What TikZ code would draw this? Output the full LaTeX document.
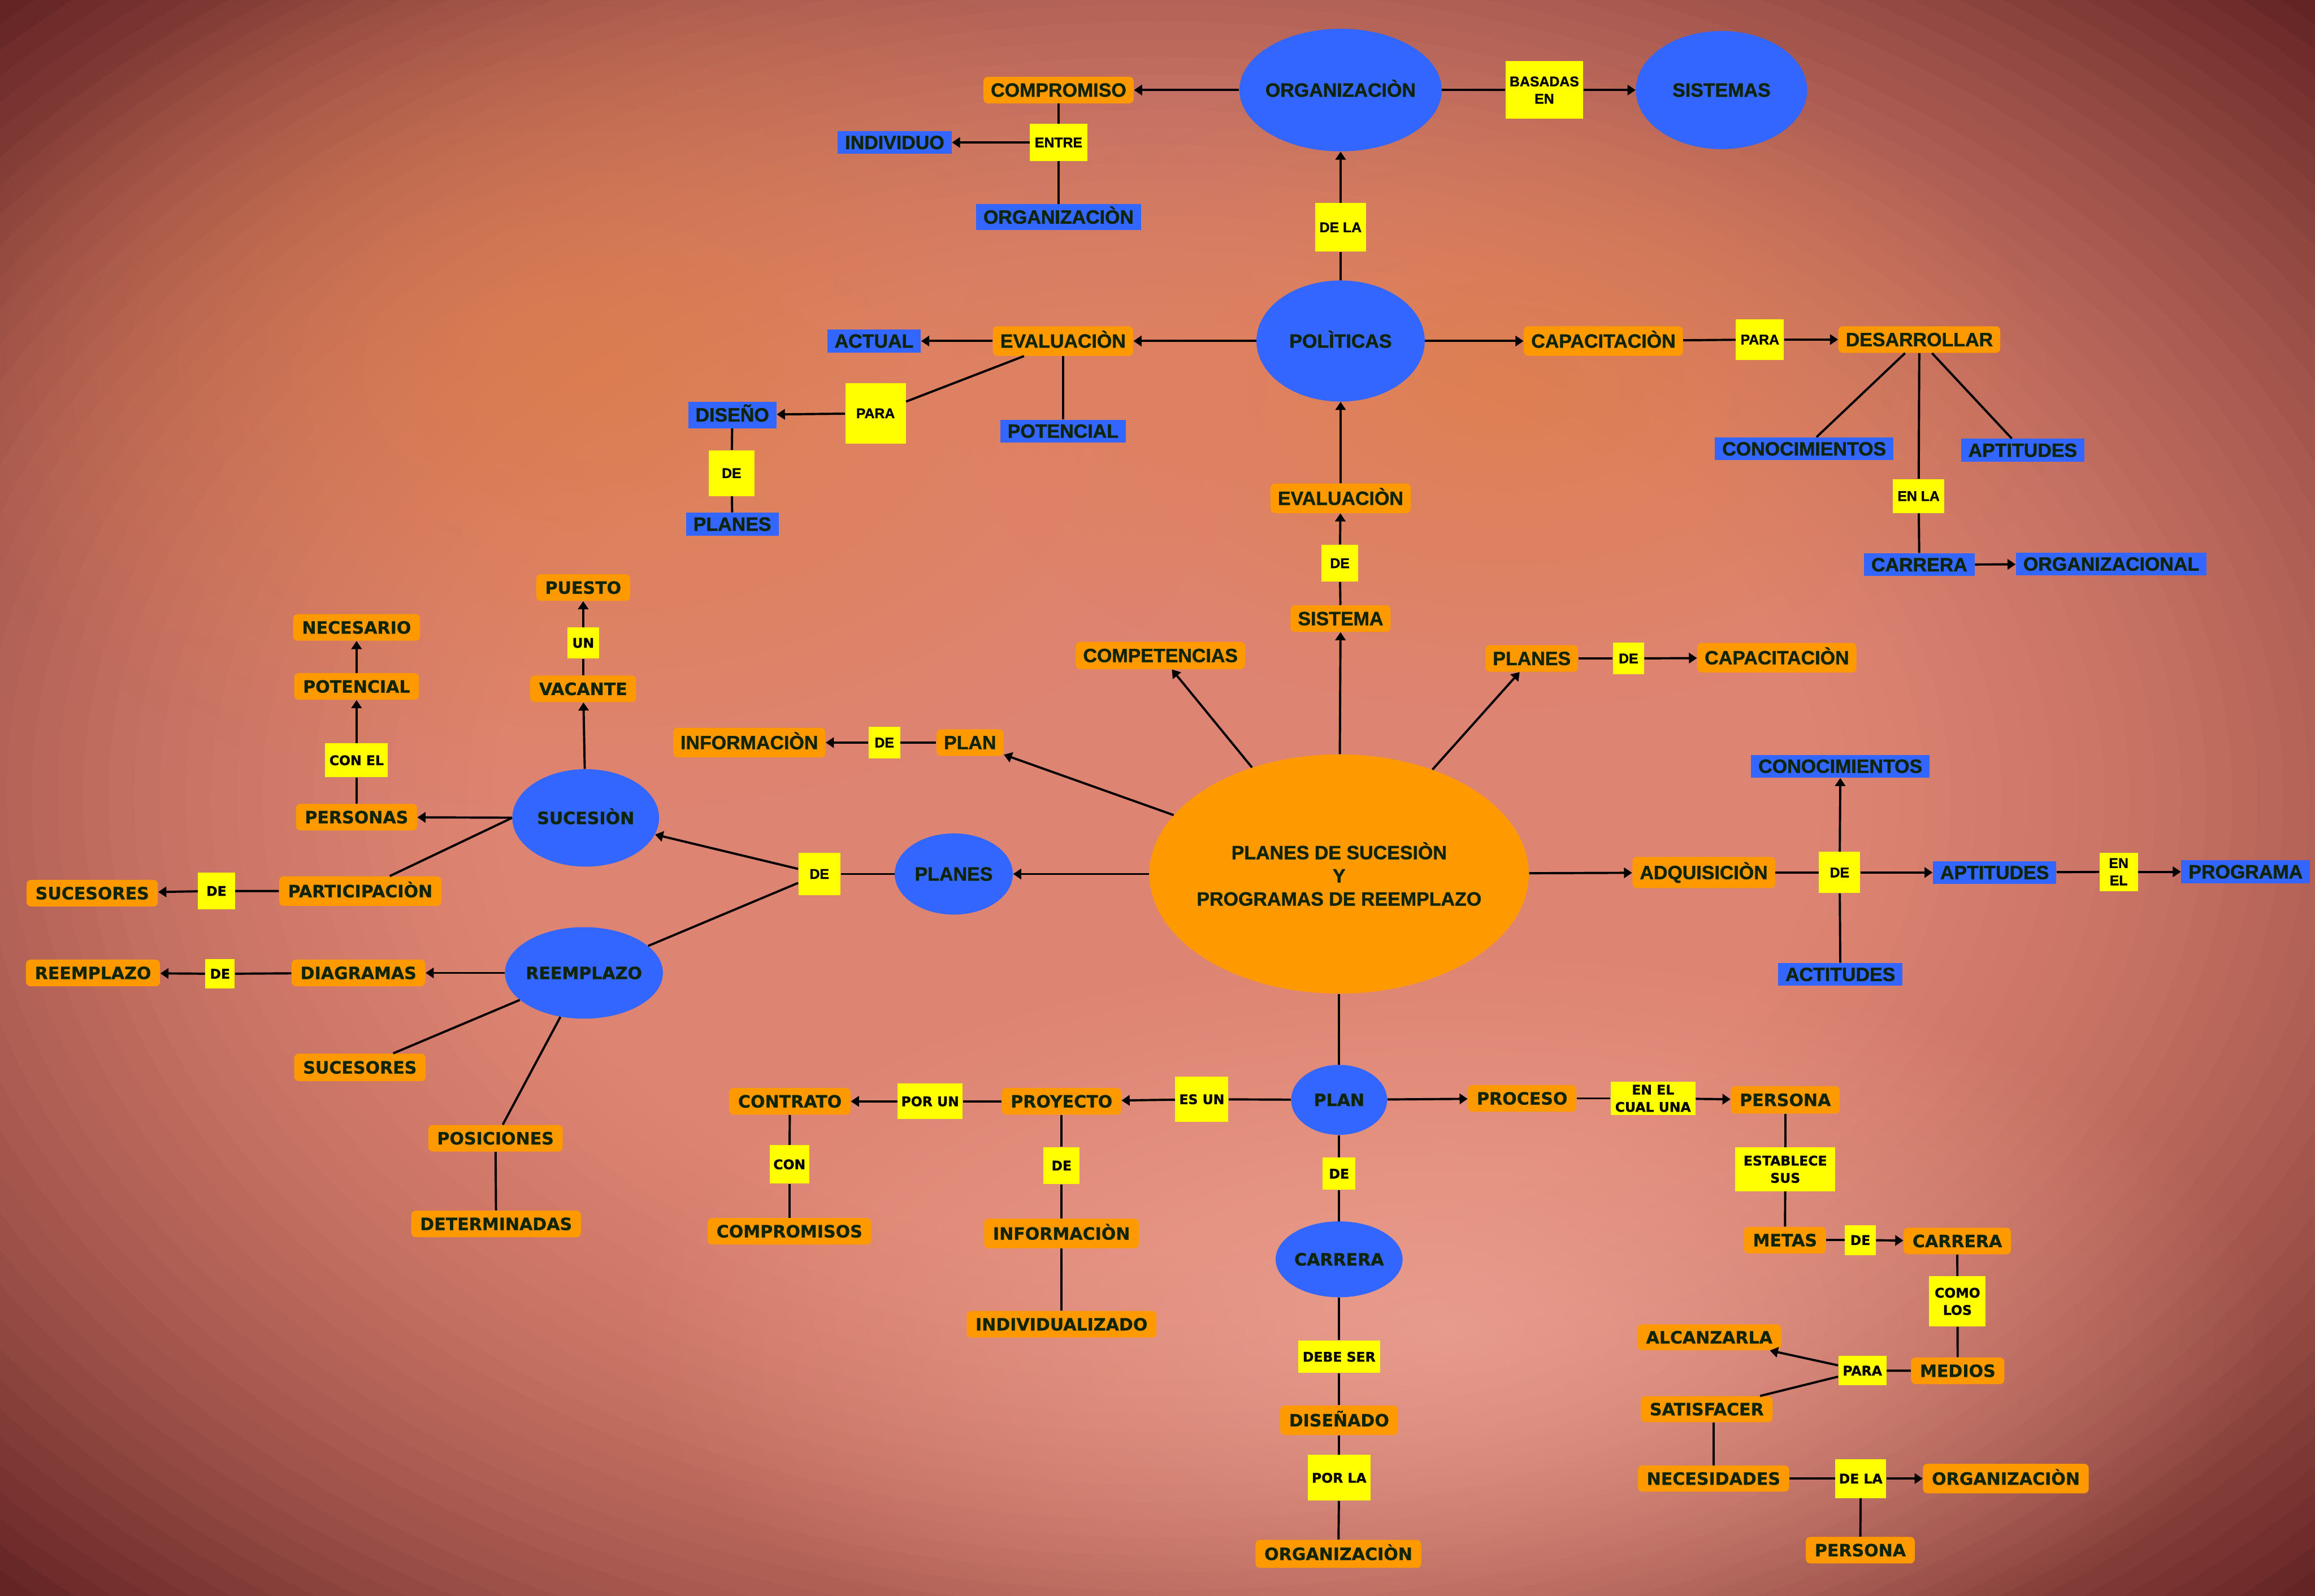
\documentclass[tikz,border=0pt]{standalone}
\usepackage{fontspec}
\newfontfamily\fimp{Liberation Sans}[BoldFeatures={FakeBold=1.2}]
\newfontfamily\fblk{DejaVu Sans}[BoldFeatures={FakeBold=0.8}]
\usetikzlibrary{shapes.geometric,arrows.meta,fadings}

\definecolor{naranja}{RGB}{255,153,0}
\definecolor{azul}{RGB}{51,102,255}
\definecolor{amarillo}{RGB}{255,255,0}
\definecolor{tinta}{RGB}{16,36,8}
\definecolor{fondoc}{RGB}{222,132,114}
\definecolor{fondod}{RGB}{100,36,36}
\definecolor{fondoo}{RGB}{222,126,72}
\definecolor{fondol}{RGB}{238,166,152}

\newcommand\fntI{\fimp\bfseries\fontsize{13}{15.7}\selectfont}
\newcommand\fntA{\fblk\bfseries\fontsize{11.5}{13.5}\selectfont}
\newcommand\fntIs{\fimp\bfseries\fontsize{9.5}{11.7}\selectfont}
\newcommand\fntAs{\fblk\bfseries\fontsize{9}{11.7}\selectfont}

\tikzfading[name=brillo, inner color=transparent!25, outer color=transparent!100]

\tikzset{
  ora/.style={fill=naranja, rounded corners=3pt, text=tinta, font=\fntI, inner xsep=5pt, inner ysep=0pt,
    minimum height=18pt, text height=9pt, text depth=0pt},
  oraw/.style={ora, font=\fntA, inner xsep=6pt, text height=8.4pt},
  blu/.style={fill=azul, text=tinta, font=\fntI, inner xsep=5pt, inner ysep=0pt,
    minimum height=15.5pt, text height=9pt, text depth=0pt},
  yel/.style={fill=amarillo, text=black, font=\fntIs, inner sep=1pt, align=center},
  yelw/.style={yel, font=\fntAs},
  nube/.style={ellipse, fill=azul, text=tinta, font=\fntI, inner sep=-8pt, text height=9pt, text depth=0pt},
  nubew/.style={nube, font=\fntA, text height=8.4pt},
  tam/.style 2 args={minimum width=#1pt, minimum height=#2pt},
  lin/.style={line width=1.5pt},
  arr/.style={line width=1.5pt, -{Triangle[length=5.5pt,width=7pt]}}
}

\begin{document}
\begin{tikzpicture}[x=1pt,y=-1pt]
    \useasboundingbox (0,0) rectangle (1568,1081);
    % fondo
    \begin{scope}
    \clip (0,0) rectangle (1568,1081);
    \fill[fondod] (0,0) rectangle (1568,1081);
    \foreach \k in {64,...,1}{
        \pgfmathsetmacro\s{max(0,\k/64-0.40)/0.60}
        \pgfmathsetmacro\p{max(0,min(100,100*(1-0.3*\s-0.7*\s*\s)))}
        \pgfmathsetmacro\rx{17.33*\k}
        \pgfmathsetmacro\ry{11.94*\k}
        \fill[fondoc!\p!fondod] (784,540) ellipse (\rx pt and \ry pt);
    }
    \fill[fondoo, path fading=brillo] (400,250) ellipse (460 and 300);
    \fill[fondoo, path fading=brillo] (1020,260) ellipse (380 and 220);
    \fill[fondol, path fading=brillo] (980,900) ellipse (560 and 260);
    \end{scope}

    % centro
    \node[ellipse, fill=naranja, tam={257}{162}, inner sep=-8pt, text=tinta, font=\fntI, align=center] (main) at (907,592)
        {PLANES DE SUCESIÒN\\Y\\PROGRAMAS DE REEMPLAZO};

    % arriba
    \node[nube, tam={137}{83}] (org) at (908,61) {ORGANIZACIÒN};
    \node[yel, tam={52.5}{39}] (basadas) at (1046,61) {BASADAS\\EN};
    \node[nube, tam={116}{80}] (sistemas) at (1166,61) {SISTEMAS};
    \node[ora] (comp) at (717,61) {COMPROMISO};
    \node[yel, tam={39}{25}] (entre) at (717,96.5) {ENTRE};
    \node[blu] (indiv) at (606,96.5) {INDIVIDUO};
    \node[blu, minimum height=17.5pt] (orgb) at (717,147) {ORGANIZACIÒN};
    \node[yel, tam={34.5}{33}] (dela) at (908,154) {DE LA};
    \node[nube, tam={114}{82}] (pol) at (908,231) {POLÌTICAS};
    \node[ora, minimum height=20pt] (evalL) at (720,231) {EVALUACIÒN};
    \node[blu] (actual) at (592,231) {ACTUAL};
    \node[blu] (potb) at (720,292) {POTENCIAL};
    \node[yel, tam={41}{41}] (paraL) at (593,280) {PARA};
    \node[blu, minimum height=18pt] (diseno) at (496,281) {DISEÑO};
    \node[yel, tam={31}{31}] (deL) at (495.5,320.5) {DE};
    \node[blu] (planesb) at (496,355) {PLANES};
    \node[ora, minimum height=20pt] (evalC) at (908,337.5) {EVALUACIÒN};
    \node[yel, tam={25}{25}] (deC) at (907.5,381.5) {DE};
    \node[ora] (sistema) at (908,419) {SISTEMA};
    \node[ora, minimum height=18.5pt] (compet) at (786,444) {COMPETENCIAS};
    \node[ora] (planesR) at (1037.5,446) {PLANES};
    \node[yel, tam={21}{21.5}] (deR) at (1103,446) {DE};
    \node[ora, minimum height=20pt] (capacR) at (1203.5,445.5) {CAPACITACIÒN};
    \node[ora] (planL) at (657,503) {PLAN};
    \node[yel, tam={21.5}{21.5}] (deP) at (599,503) {DE};
    \node[ora, minimum height=20pt] (infoL) at (507.5,503) {INFORMACIÒN};
    \node[nube, tam={80}{55}] (planesE) at (646,592) {PLANES};
    \node[yel, tam={28.5}{28.5}] (deE) at (555,592) {DE};

    % derecha arriba
    \node[ora, minimum height=20pt] (capac) at (1086,231) {CAPACITACIÒN};
    \node[yel, tam={32.5}{27.5}] (paraR) at (1192,230) {PARA};
    \node[ora] (desarr) at (1300,230) {DESARROLLAR};
    \node[blu] (conoc1) at (1222,304) {CONOCIMIENTOS};
    \node[blu] (aptit1) at (1370,305) {APTITUDES};
    \node[yel, tam={35}{23}] (enla) at (1299.5,336) {EN LA};
    \node[blu] (carrB) at (1300,382.5) {CARRERA};
    \node[blu] (orgnal) at (1430,382) {ORGANIZACIONAL};

    % derecha
    \node[ora, minimum height=21pt] (adq) at (1154,591) {ADQUISICIÒN};
    \node[yel, tam={28}{28}] (deA) at (1246,591) {DE};
    \node[blu] (conoc2) at (1246.5,519) {CONOCIMIENTOS};
    \node[blu] (aptit2) at (1351,591) {APTITUDES};
    \node[yel, tam={26}{26}] (enel) at (1435,590.5) {EN\\EL};
    \node[blu] (programa) at (1521,590.5) {PROGRAMA};
    \node[blu] (actit) at (1246.5,660) {ACTITUDES};

    % izquierda
    \node[oraw] (puesto) at (395,398) {PUESTO};
    \node[yelw, tam={21.5}{21}] (un) at (395,435.5) {UN};
    \node[oraw] (vacante) at (395,466.6) {VACANTE};
    \node[oraw] (necesario) at (241.5,425) {NECESARIO};
    \node[oraw] (potA) at (241.5,465) {POTENCIAL};
    \node[yelw, tam={42.5}{23}] (conel) at (241.5,515) {CON EL};
    \node[oraw] (personas) at (241.5,553.5) {PERSONAS};
    \node[nubew, tam={99.4}{66}] (suc) at (396.7,554) {SUCESIÒN};
    \node[oraw, minimum height=20pt] (partic) at (244,603.6) {PARTICIPACIÒN};
    \node[yelw, tam={25}{25}] (deS) at (146.6,603.5) {DE};
    \node[oraw] (sucesores1) at (62.5,605) {SUCESORES};
    \node[nubew, tam={107}{62}] (reem) at (395.5,659) {REEMPLAZO};
    \node[oraw] (diagr) at (242.8,659) {DIAGRAMAS};
    \node[yelw, tam={20}{20}] (deD) at (149,659.6) {DE};
    \node[oraw] (reemO) at (63,659) {REEMPLAZO};
    \node[oraw, minimum height=18.6pt] (sucesores2) at (243.8,723) {SUCESORES};
    \node[oraw] (posic) at (335.6,771) {POSICIONES};
    \node[oraw] (determ) at (336,829) {DETERMINADAS};

    % abajo
    \node[nubew, tam={65}{47.4}] (plan) at (907,745) {PLAN};
    \node[yelw, tam={36}{30.6}] (esun) at (814,744.6) {ES UN};
    \node[oraw] (proy) at (719,746) {PROYECTO};
    \node[yelw, tam={44}{24}] (porun) at (630,746) {POR UN};
    \node[oraw] (contrato) at (535,746) {CONTRATO};
    \node[yelw, tam={27}{26}] (con) at (534.7,788.7) {CON};
    \node[oraw] (comprs) at (534.7,834) {COMPROMISOS};
    \node[yelw, tam={24.5}{25}] (deY) at (719,789.5) {DE};
    \node[oraw, minimum height=20pt] (infoB) at (719,835.5) {INFORMACIÒN};
    \node[oraw] (individ) at (719,897) {INDIVIDUALIZADO};
    \node[yelw, tam={22.3}{22}] (deV) at (907,795) {DE};
    \node[nubew, tam={86}{51.4}] (carr) at (907,853) {CARRERA};
    \node[yelw, tam={55.3}{22}] (debeser) at (907,919) {DEBE SER};
    \node[oraw, minimum height=20pt] (disenado) at (907,962) {DISEÑADO};
    \node[yelw, tam={42.4}{31}] (porla) at (907,1001) {POR LA};
    \node[oraw, minimum height=19pt] (orgB) at (906.5,1052.5) {ORGANIZACIÒN};

    % abajo derecha
    \node[oraw] (proceso) at (1031,744) {PROCESO};
    \node[yelw, tam={57.5}{22.6}] (encual) at (1119.6,744) {EN EL\\CUAL UNA};
    \node[oraw, minimum height=18.5pt] (persona1) at (1209.2,745) {PERSONA};
    \node[yelw, tam={67.6}{29.7}] (establece) at (1209.2,792) {ESTABLECE\\SUS};
    \node[oraw] (metas) at (1209,840) {METAS};
    \node[yelw, tam={21}{20.3}] (deM) at (1260,840) {DE};
    \node[oraw] (carrO) at (1325.7,840.6) {CARRERA};
    \node[yelw, tam={38.3}{34}] (comolos) at (1325.8,881.5) {COMO\\LOS};
    \node[oraw] (medios) at (1326,928.5) {MEDIOS};
    \node[yelw, tam={32.5}{20}] (paraB) at (1261.4,928.4) {PARA};
    \node[oraw, minimum height=17.5pt] (alcanz) at (1157.7,905.8) {ALCANZARLA};
    \node[oraw, minimum height=17.5pt] (satisf) at (1156,954.5) {SATISFACER};
    \node[oraw, minimum height=17.7pt] (necesid) at (1160.6,1001.5) {NECESIDADES};
    \node[yelw, tam={34.6}{26.3}] (delaB) at (1260.3,1001.5) {DE LA};
    \node[oraw, minimum height=20pt] (orgO) at (1358.6,1001.5) {ORGANIZACIÒN};
    \node[oraw] (persona2) at (1260,1050) {PERSONA};

    % conectores
    \draw[arr] (org) -- (comp);
    \draw[lin] (org) -- (basadas);
    \draw[arr] (basadas) -- (sistemas);
    \draw[lin] (comp) -- (entre);
    \draw[arr] (entre) -- (indiv);
    \draw[lin] (entre) -- (orgb);
    \draw[lin] (pol) -- (dela);
    \draw[arr] (dela) -- (org);
    \draw[arr] (pol) -- (evalL);
    \draw[arr] (evalL) -- (actual);
    \draw[lin] (evalL) -- (potb);
    \draw[lin] (evalL) -- (paraL);
    \draw[arr] (paraL) -- (diseno);
    \draw[lin] (diseno) -- (deL);
    \draw[lin] (deL) -- (planesb);
    \draw[arr] (pol) -- (capac);
    \draw[lin] (capac) -- (paraR);
    \draw[arr] (paraR) -- (desarr);
    \draw[lin] (desarr) -- (conoc1);
    \draw[lin] (desarr) -- (aptit1);
    \draw[lin] (desarr) -- (enla);
    \draw[lin] (enla) -- (carrB);
    \draw[arr] (carrB) -- (orgnal);
    \draw[arr] (main) -- (sistema);
    \draw[lin] (sistema) -- (deC);
    \draw[arr] (deC) -- (evalC);
    \draw[arr] (evalC) -- (pol);
    \draw[arr] (main) -- (compet);
    \draw[arr] (main) -- (planesR);
    \draw[lin] (planesR) -- (deR);
    \draw[arr] (deR) -- (capacR);
    \draw[arr] (main) -- (planL);
    \draw[lin] (planL) -- (deP);
    \draw[arr] (deP) -- (infoL);
    \draw[arr] (main) -- (planesE);
    \draw[lin] (planesE) -- (deE);
    \draw[arr] (deE) -- (suc);
    \draw[lin] (deE) -- (reem);

    \draw[arr] (suc) -- (vacante);
    \draw[lin] (vacante) -- (un);
    \draw[arr] (un) -- (puesto);
    \draw[arr] (suc) -- (personas);
    \draw[lin] (personas) -- (conel);
    \draw[arr] (conel) -- (potA);
    \draw[arr] (potA) -- (necesario);
    \draw[lin] (suc.west) -- ([xshift=20pt]partic.north);
    \draw[lin] (partic) -- (deS);
    \draw[arr] (deS) -- (sucesores1);
    \draw[arr] (reem) -- (diagr);
    \draw[lin] (diagr) -- (deD);
    \draw[arr] (deD) -- (reemO);
    \draw[lin] (reem) -- (sucesores2);
    \draw[lin] (reem) -- (posic);
    \draw[lin] (posic) -- (determ);

    \draw[arr] (main) -- (adq);
    \draw[lin] (adq) -- (deA);
    \draw[arr] (deA) -- (conoc2);
    \draw[arr] (deA) -- (aptit2);
    \draw[lin] (deA) -- (actit);
    \draw[lin] (aptit2) -- (enel);
    \draw[arr] (enel) -- (programa);

    \draw[lin] (main) -- (plan);
    \draw[lin] (plan) -- (esun);
    \draw[arr] (esun) -- (proy);
    \draw[lin] (proy) -- (porun);
    \draw[arr] (porun) -- (contrato);
    \draw[lin] (contrato) -- (con);
    \draw[lin] (con) -- (comprs);
    \draw[lin] (proy) -- (deY);
    \draw[lin] (deY) -- (infoB);
    \draw[lin] (infoB) -- (individ);
    \draw[lin] (plan) -- (deV);
    \draw[lin] (deV) -- (carr);
    \draw[lin] (carr) -- (debeser);
    \draw[lin] (debeser) -- (disenado);
    \draw[lin] (disenado) -- (porla);
    \draw[lin] (porla) -- (orgB);

    \draw[arr] (plan) -- (proceso);
    \draw[lin] (proceso) -- (encual);
    \draw[arr] (encual) -- (persona1);
    \draw[lin] (persona1) -- (establece);
    \draw[lin] (establece) -- (metas);
    \draw[lin] (metas) -- (deM);
    \draw[arr] (deM) -- (carrO);
    \draw[lin] (carrO) -- (comolos);
    \draw[lin] (comolos) -- (medios);
    \draw[lin] (medios) -- (paraB);
    \draw[arr] (paraB) -- (alcanz);
    \draw[lin] (paraB) -- (satisf);
    \draw[lin] (satisf.south -| necesid) -- (necesid);
    \draw[lin] (necesid) -- (delaB);
    \draw[arr] (delaB) -- (orgO);
    \draw[lin] (delaB) -- (persona2);
\end{tikzpicture}
\end{document}
